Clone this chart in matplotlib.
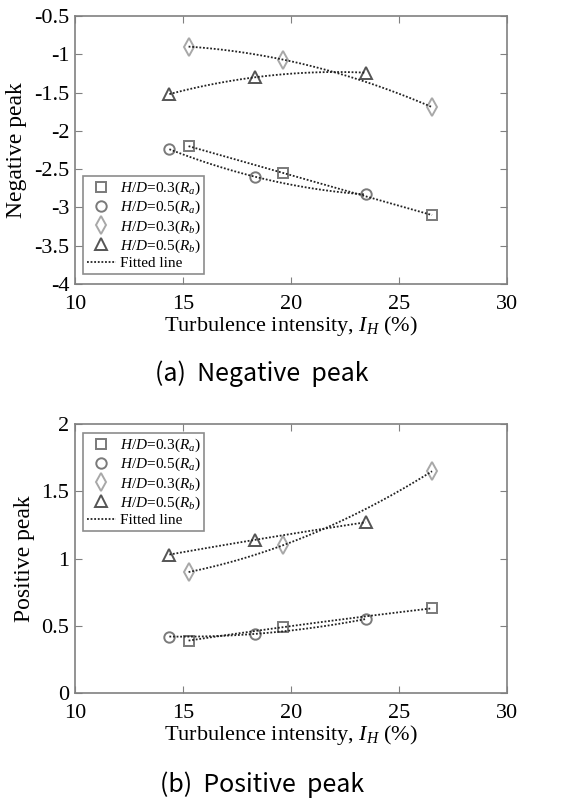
import numpy as np
import matplotlib
matplotlib.use("Agg")
import matplotlib.pyplot as plt

plt.rcParams['font.family'] = ['Liberation Serif', 'DejaVu Serif']
plt.rcParams['mathtext.fontset'] = 'custom'
plt.rcParams['mathtext.rm'] = 'Liberation Serif'
plt.rcParams['mathtext.it'] = 'Liberation Serif:italic'

# turbulence intensity (%) for the two roughness cases
x_a = [15.26, 19.64, 26.53]   # H/D = 0.3
x_b = [14.37, 18.35, 23.45]   # H/D = 0.5

# (a) negative peak
neg_03_ra = [-2.20, -2.55, -3.10]
neg_05_ra = [-2.24, -2.60, -2.83]
neg_03_rb = [-0.90, -1.07, -1.69]
neg_05_rb = [-1.52, -1.30, -1.24]

# (b) positive peak
pos_03_ra = [0.39, 0.49, 0.63]
pos_05_ra = [0.42, 0.44, 0.55]
pos_03_rb = [0.90, 1.10, 1.65]
pos_05_rb = [1.03, 1.14, 1.27]

labels = [r"$H/D$=0.3($R_a$)", r"$H/D$=0.5($R_a$)",
          r"$H/D$=0.3($R_b$)", r"$H/D$=0.5($R_b$)"]
markers = ["s", "o", "d", "^"]
colors = ["#7a7a7a", "#7a7a7a", "#a8a8a8", "#555555"]
msizes = [7.5, 7.5, 9, 9]


def panel(ax, ys, ylim, yticks, ylabel, legend_loc, legend_anchor):
    xs = [x_a, x_b, x_a, x_b]
    for xv, yv, m, c, ms, lab in zip(xs, ys, markers, colors, msizes, labels):
        ax.plot(xv, yv, linestyle="none", marker=m, markersize=ms,
                markerfacecolor="none", markeredgecolor=c, markeredgewidth=1.4,
                label=lab)
    # second-order fit through each series
    for i, (xv, yv) in enumerate(zip(xs, ys)):
        p = np.polyfit(xv, yv, 2)
        xf = np.linspace(xv[0], xv[-1], 100)
        ax.plot(xf, np.polyval(p, xf), linestyle=(0, (1, 1)), color="#222222",
                linewidth=1.3, label="Fitted line" if i == 0 else None)
    ax.set_xlim(10, 30)
    ax.set_xticks([10, 15, 20, 25, 30])
    ax.set_ylim(*ylim)
    ax.set_yticks(yticks)
    ax.set_yticklabels([f"{t:g}" for t in yticks])
    ax.set_xlabel(r"Turbulence intensity, $I_H$ (%)", fontsize=16, labelpad=0)
    ax.set_ylabel(ylabel, fontsize=17, labelpad=5)
    ax.tick_params(direction="in", top=True, right=True, labelsize=16,
                   color="#808080", length=5)
    ax.tick_params(axis="x", pad=8)
    ax.tick_params(axis="y", pad=4)
    for s in ax.spines.values():
        s.set_color("#808080")
        s.set_linewidth(1.2)
    leg = ax.legend(loc=legend_loc, bbox_to_anchor=legend_anchor,
                    borderaxespad=0, fontsize=11, frameon=True,
                    fancybox=False, edgecolor="#707070",
                    handlelength=1.9, handletextpad=0.25,
                    labelspacing=0.12, borderpad=0.25)
    leg.get_frame().set_linewidth(1.2)


fig = plt.figure(figsize=(5.71, 8.0), dpi=100)

ax1 = fig.add_axes([0.1313, 0.645, 0.7566, 0.335])
panel(ax1, [neg_03_ra, neg_05_ra, neg_03_rb, neg_05_rb], (-4, -0.5),
      [-4, -3.5, -3, -2.5, -2, -1.5, -1, -0.5], "Negative peak",
      "lower left", (0.0185, 0.037))

ax2 = fig.add_axes([0.1313, 0.13375, 0.7566, 0.336])
panel(ax2, [pos_03_ra, pos_05_ra, pos_03_rb, pos_05_rb], (0, 2),
      [0, 0.5, 1, 1.5, 2], "Positive peak",
      "upper left", (0.0185, 0.967))

cap = ['Noto Sans CJK KR', 'DejaVu Sans']
fig.text(262 / 571, 1 - 374 / 800, "(a)  Negative  peak", ha="center",
         va="center", fontsize=18, family=cap)
fig.text(262 / 571, 1 - 785 / 800, "(b)  Positive  peak", ha="center",
         va="center", fontsize=18, family=cap)

fig.savefig("out.png", dpi=100)
